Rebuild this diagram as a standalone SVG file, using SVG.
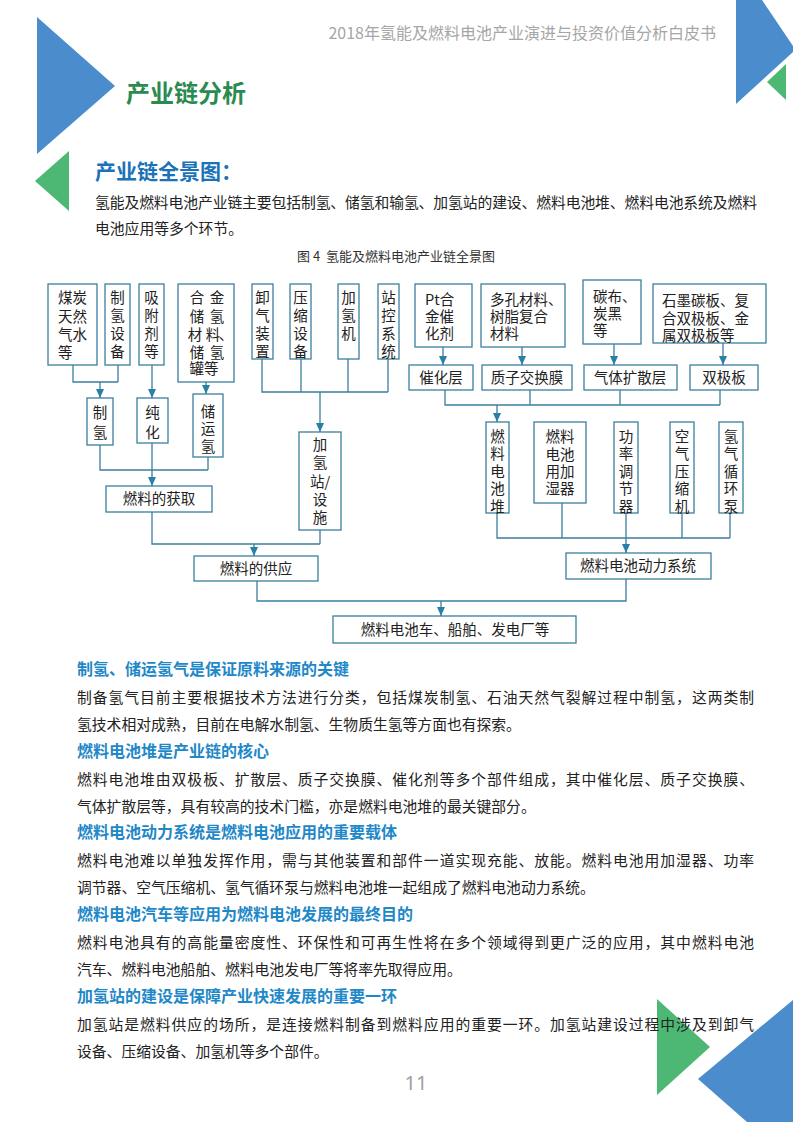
<svg xmlns="http://www.w3.org/2000/svg" width="793" height="1122" viewBox="0 0 793 1122">
<style>
.box{fill:#fff;stroke:#3b7f9e;stroke-width:1.3}
.ln{fill:none;stroke:#3b7f9e;stroke-width:1.3}
.ar{fill:none;stroke:#3b7f9e;stroke-width:1.3;marker-end:url(#ah)}
.t{font-family:"Noto Sans CJK SC","Noto Sans",sans-serif;font-size:14.5px;fill:#222}
.c{text-anchor:middle}
.v{writing-mode:vertical-rl;text-orientation:upright;letter-spacing:3.5px}
.body{font-family:"Noto Sans CJK SC",sans-serif;font-size:14.8px;fill:#222}
.hd{font-family:"Noto Sans CJK SC",sans-serif;font-size:16px;font-weight:bold;fill:#1e88c8}
</style>
<defs>
<marker id="ah" markerWidth="9" markerHeight="8" refX="9" refY="4" orient="auto" markerUnits="userSpaceOnUse">
<path d="M0,0 L9,4 L0,8 z" fill="#2a7fa6"/>
</marker>
</defs>
<rect width="793" height="1122" fill="#fff"/>

<!-- decorations -->
<polygon points="37,17 115,86 37,154" fill="#4a8ccc"/>
<polygon points="69,151 69,211 35,181" fill="#4cb874"/>
<polygon points="736,0 762,0 793,46 793,52 736,104" fill="#4a8ccc"/>
<polygon points="767,82 786,64 786,100" fill="#4cb874"/>
<polygon points="657,999 710,1047 657,1095" fill="#4cb874"/>
<polygon points="698,1079 793,1000 793,1122 747,1122" fill="#4a8ccc"/>

<text x="716" y="39" text-anchor="end" font-family="Noto Sans CJK SC,sans-serif" font-size="16" fill="#a6a6a6">2018年氢能及燃料电池产业演进与投资价值分析白皮书</text>
<text x="126" y="102" font-family="Noto Sans CJK SC,sans-serif" font-size="24" font-weight="bold" fill="#2a8a4f">产业链分析</text>
<text x="95" y="179" font-family="Noto Sans CJK SC,sans-serif" font-size="21" font-weight="bold" fill="#1a73b9">产业链全景图：</text>
<text x="95" y="208" class="body" font-size="14.5" textLength="662" lengthAdjust="spacing">氢能及燃料电池产业链主要包括制氢、储氢和输氢、加氢站的建设、燃料电池堆、燃料电池系统及燃料</text>
<text x="95" y="234" class="body" font-size="14.5">电池应用等多个环节。</text>
<text x="396" y="261" text-anchor="middle" font-family="Noto Sans CJK SC,sans-serif" font-size="13" fill="#333" xml:space="preserve">图 4  氢能及燃料电池产业链全景图</text>

<!-- connectors -->
<g id="connectors">
<path class="ln" d="M73,365 V382 H118 M118,365 V382"/>
<path class="ar" d="M100,382 V398"/>
<path class="ar" d="M152,365 V398"/>
<path class="ar" d="M206,382 V394"/>
<path class="ln" d="M100,445 V470 H208 M152,443 V470 M208,457 V470"/>
<path class="ar" d="M152,470 V486"/>
<path class="ln" d="M152,512 V544 H320 M320,530 V544"/>
<path class="ar" d="M254,544 V556"/>
<path class="ln" d="M262,359 V392 H388 M301,359 V392 M348,359 V392 M388,359 V392"/>
<path class="ar" d="M320,392 V432"/>
<path class="ar" d="M443,347 V365"/>
<path class="ar" d="M522,347 V365"/>
<path class="ar" d="M614,344 V365"/>
<path class="ar" d="M723,343 V365"/>
<path class="ln" d="M445,390 V405 H720 M530,390 V405 M620,390 V405 M720,390 V405"/>
<path class="ar" d="M497,405 V422"/>
<path class="ln" d="M497,513 V538 H730 M562,503 V538 M682,513 V538 M730,513 V538"/>
<path class="ar" d="M626,513 V553"/>
<path class="ln" d="M257,581 V601 H626 V579"/>
<path class="ar" d="M441,601 V616"/>
</g>

<!-- left group -->
<g id="n-coal"><rect class="box" x="48" y="284" width="49" height="81"/>
<text class="t"><tspan x="58" y="303">煤炭</tspan><tspan x="58" y="322">天然</tspan><tspan x="58" y="340">气水</tspan><tspan x="58" y="358">等</tspan></text></g>
<g id="n-equip"><rect class="box" x="105" y="284" width="25" height="81"/>
<text class="t v" x="117.5" y="290">制氢设备</text></g>
<g id="n-adsorb"><rect class="box" x="139" y="284" width="25" height="81"/>
<text class="t v" x="151.5" y="290">吸附剂等</text></g>
<g id="n-alloy"><rect class="box" x="178" y="284" width="56" height="98"/>
<text class="t c"><tspan x="197" y="303">合</tspan><tspan x="217" y="303">金</tspan><tspan x="197" y="322">储</tspan><tspan x="217" y="322">氢</tspan><tspan x="195" y="340">材</tspan><tspan x="213" y="340">料</tspan><tspan x="226" y="340">、</tspan><tspan x="197" y="358">储</tspan><tspan x="217" y="358">氢</tspan><tspan x="204" y="374">罐等</tspan></text></g>
<g id="n-prod"><rect class="box" x="87" y="398" width="26" height="47"/>
<text class="t v" x="100" y="405" style="letter-spacing:5.5px">制氢</text></g>
<g id="n-purify"><rect class="box" x="137" y="398" width="31" height="45"/>
<text class="t v" x="152.5" y="405" style="letter-spacing:5.5px">纯化</text></g>
<g id="n-store"><rect class="box" x="193" y="394" width="30" height="63"/>
<text class="t v" x="208" y="404" style="letter-spacing:3px">储运氢</text></g>
<g id="n-obtain"><rect class="box" x="106" y="486" width="106" height="26"/>
<text class="t c" x="159" y="504">燃料的获取</text></g>

<!-- middle group -->
<g id="n-unload"><rect class="box" x="252" y="284" width="21" height="75"/>
<text class="t v" x="262.5" y="290">卸气装置</text></g>
<g id="n-compress"><rect class="box" x="290" y="284" width="21" height="75"/>
<text class="t v" x="300.5" y="290">压缩设备</text></g>
<g id="n-dispenser"><rect class="box" x="338" y="284" width="21" height="75"/>
<text class="t v" x="348.5" y="290">加氢机</text></g>
<g id="n-control"><rect class="box" x="378" y="284" width="21" height="75"/>
<text class="t v" x="388.5" y="290">站控系统</text></g>
<g id="n-station"><rect class="box" x="299" y="432" width="42" height="98"/>
<text class="t c"><tspan x="320" y="450">加</tspan><tspan x="320" y="468">氢</tspan><tspan x="320" y="487">站/</tspan><tspan x="320" y="505">设</tspan><tspan x="320" y="523">施</tspan></text></g>
<g id="n-supply"><rect class="box" x="194" y="556" width="124" height="25"/>
<text class="t c" x="256" y="574">燃料的供应</text></g>

<!-- right group -->
<g id="n-pt"><rect class="box" x="415" y="284" width="57" height="63"/>
<text class="t"><tspan x="425" y="305">Pt合</tspan><tspan x="425" y="322">金催</tspan><tspan x="425" y="339">化剂</tspan></text></g>
<g id="n-porous"><rect class="box" x="481" y="284" width="84" height="63"/>
<text class="t"><tspan x="490" y="305">多孔材料、</tspan><tspan x="490" y="322">树脂复合</tspan><tspan x="490" y="339">材料</tspan></text></g>
<g id="n-carbon"><rect class="box" x="583" y="280" width="58" height="64"/>
<text class="t"><tspan x="593" y="302">碳布、</tspan><tspan x="593" y="319">炭黑</tspan><tspan x="593" y="336">等</tspan></text></g>
<g id="n-graphite"><rect class="box" x="653" y="284" width="113" height="59"/>
<text class="t"><tspan x="662" y="306">石墨碳板、复</tspan><tspan x="662" y="324">合双极板、金</tspan><tspan x="662" y="341">属双极板等</tspan></text></g>
<g id="n-catlayer"><rect class="box" x="409" y="365" width="64" height="25"/>
<text class="t c" x="441" y="383">催化层</text></g>
<g id="n-pem"><rect class="box" x="482" y="365" width="90" height="25"/>
<text class="t c" x="527" y="383">质子交换膜</text></g>
<g id="n-gdl"><rect class="box" x="584" y="365" width="93" height="25"/>
<text class="t c" x="630" y="383">气体扩散层</text></g>
<g id="n-bipolar"><rect class="box" x="690" y="365" width="68" height="25"/>
<text class="t c" x="724" y="383">双极板</text></g>
<g id="n-stack"><rect class="box" x="486" y="422" width="23" height="91"/>
<text class="t v" x="497.5" y="429" style="letter-spacing:3px">燃料电池堆</text></g>
<g id="n-humid"><rect class="box" x="534" y="422" width="52" height="81"/>
<text class="t c"><tspan x="560" y="442">燃料</tspan><tspan x="560" y="460">电池</tspan><tspan x="560" y="477">用加</tspan><tspan x="560" y="494">湿器</tspan></text></g>
<g id="n-power"><rect class="box" x="614" y="422" width="24" height="91"/>
<text class="t v" x="626" y="429" style="letter-spacing:3px">功率调节器</text></g>
<g id="n-aircomp"><rect class="box" x="670" y="422" width="24" height="91"/>
<text class="t v" x="682" y="429" style="letter-spacing:3px">空气压缩机</text></g>
<g id="n-pump"><rect class="box" x="719" y="422" width="24" height="91"/>
<text class="t v" x="731" y="429" style="letter-spacing:3px">氢气循环泵</text></g>
<g id="n-system"><rect class="box" x="566" y="553" width="145" height="26"/>
<text class="t c" x="638" y="571">燃料电池动力系统</text></g>
<g id="n-app"><rect class="box" x="333" y="616" width="243" height="27"/>
<text class="t c" x="455" y="635">燃料电池车、船舶、发电厂等</text></g>

<!-- body text -->
<text class="hd" x="77" y="675">制氢、储运氢气是保证原料来源的关键</text>
<text class="body" x="77" y="703" textLength="677" lengthAdjust="spacing">制备氢气目前主要根据技术方法进行分类，包括煤炭制氢、石油天然气裂解过程中制氢，这两类制</text>
<text class="body" x="77" y="730">氢技术相对成熟，目前在电解水制氢、生物质生氢等方面也有探索。</text>
<text class="hd" x="77" y="757">燃料电池堆是产业链的核心</text>
<text class="body" x="77" y="785" textLength="677" lengthAdjust="spacing">燃料电池堆由双极板、扩散层、质子交换膜、催化剂等多个部件组成，其中催化层、质子交换膜、</text>
<text class="body" x="77" y="812">气体扩散层等，具有较高的技术门槛，亦是燃料电池堆的最关键部分。</text>
<text class="hd" x="77" y="838">燃料电池动力系统是燃料电池应用的重要载体</text>
<text class="body" x="77" y="866" textLength="677" lengthAdjust="spacing">燃料电池难以单独发挥作用，需与其他装置和部件一道实现充能、放能。燃料电池用加湿器、功率</text>
<text class="body" x="77" y="893">调节器、空气压缩机、氢气循环泵与燃料电池堆一起组成了燃料电池动力系统。</text>
<text class="hd" x="77" y="920">燃料电池汽车等应用为燃料电池发展的最终目的</text>
<text class="body" x="77" y="948" textLength="677" lengthAdjust="spacing">燃料电池具有的高能量密度性、环保性和可再生性将在多个领域得到更广泛的应用，其中燃料电池</text>
<text class="body" x="77" y="975">汽车、燃料电池船舶、燃料电池发电厂等将率先取得应用。</text>
<text class="hd" x="77" y="1002">加氢站的建设是保障产业快速发展的重要一环</text>
<text class="body" x="77" y="1030" textLength="677" lengthAdjust="spacing">加氢站是燃料供应的场所，是连接燃料制备到燃料应用的重要一环。加氢站建设过程中涉及到卸气</text>
<text class="body" x="77" y="1057">设备、压缩设备、加氢机等多个部件。</text>
<text x="416" y="1090" text-anchor="middle" font-family="Noto Sans,sans-serif" font-size="20" fill="#a0a0a0">11</text>
</svg>
